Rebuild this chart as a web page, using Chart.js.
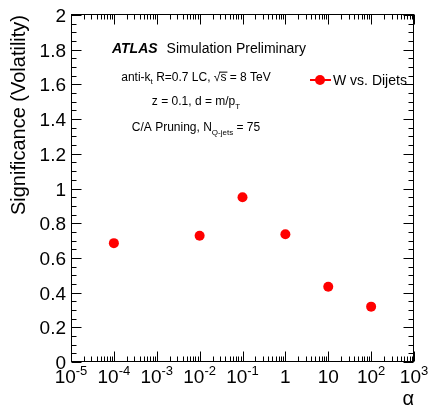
<!DOCTYPE html>
<html>
<head>
<meta charset="utf-8">
<script src="https://cdn.jsdelivr.net/npm/chart.js@4"></script>
<style>
  html, body { margin: 0; padding: 0; background: #fff; }
  #wrap { width: 430px; height: 409px; }
</style>
</head>
<body>
<div id="wrap"><canvas id="canvas"></canvas></div>
<script>
// data
var alphaValues = [1e-4, 1e-2, 1e-1, 1, 10, 100];
var significance = [0.685, 0.728, 0.95, 0.736, 0.434, 0.319];
var seriesLabel = 'W vs. Dijets';

// axis ticks
var xTickExps = [-5, -4, -3, -2, -1, 0, 1, 2, 3];
var yTickValues = [0, 0.2, 0.4, 0.6, 0.8, 1, 1.2, 1.4, 1.6, 1.8, 2];
var yTickLabels = ['0', '0.2', '0.4', '0.6', '0.8', '1', '1.2', '1.4', '1.6', '1.8', '2'];

var FONT = '"Liberation Sans", Arial, Helvetica, sans-serif';

function font(size, style) {
  return (style || '') + ' ' + size + 'px ' + FONT;
}

// draws text pieces (with sub/superscripts) on one line
function drawParts(ctx, parts, x, base, align) {
  var total = 0;
  parts.forEach(function (p) {
    ctx.font = font(p.size, p.style);
    p.w = ctx.measureText(p.t).width;
    total += p.w + (p.gap || 0);
  });
  var cx = align === 'center' ? x - total / 2 : (align === 'right' ? x - total : x);
  ctx.textAlign = 'left';
  ctx.textBaseline = 'alphabetic';
  parts.forEach(function (p) {
    ctx.font = font(p.size, p.style);
    ctx.fillText(p.t, cx, base + (p.dy || 0));
    if (p.bar) {
      ctx.fillRect(cx - 1, base - p.size * 0.78, p.w + 2, 1);
    }
    cx += p.w + (p.gap || 0);
  });
}

var atlasDecor = {
  id: 'atlasDecor',
  afterDraw: function (chart) {
    var ctx = chart.ctx;
    var a = chart.chartArea;
    var xs = chart.scales.x, ys = chart.scales.y;
    var L = a.left + 0.5, R = a.right - 0.5, T = a.top - 0.5, B = a.bottom - 0.5;
    ctx.save();
    ctx.strokeStyle = '#000';
    ctx.fillStyle = '#000';
    ctx.lineWidth = 1;

    // frame
    ctx.strokeRect(L, T, R - L, B - T);

    // x ticks (log): majors at decades, minors 2..9
    var major = 10, minor = 5;
    ctx.beginPath();
    xTickExps.forEach(function (e, i) {
      var px = Math.round(xs.getPixelForValue(Math.pow(10, e))) + 0.5;
      ctx.moveTo(px, B); ctx.lineTo(px, B - major);
      ctx.moveTo(px, T); ctx.lineTo(px, T + major);
      if (i < xTickExps.length - 1) {
        for (var m = 2; m <= 9; m++) {
          var mx = Math.round(xs.getPixelForValue(m * Math.pow(10, e))) + 0.5;
          ctx.moveTo(mx, B); ctx.lineTo(mx, B - minor);
          ctx.moveTo(mx, T); ctx.lineTo(mx, T + minor);
        }
      }
    });
    // y ticks: majors every 0.2, minors every 0.05
    for (var k = 0; k <= 40; k++) {
      var v = k * 0.05;
      var py = Math.round(ys.getPixelForValue(v)) + 0.5;
      var len = (k % 4 === 0) ? major : minor;
      ctx.moveTo(L, py); ctx.lineTo(L + len, py);
      ctx.moveTo(R, py); ctx.lineTo(R - len, py);
    }
    ctx.stroke();

    // y tick labels
    ctx.font = font(19);
    ctx.textAlign = 'right';
    ctx.textBaseline = 'alphabetic';
    yTickValues.forEach(function (v, i) {
      ctx.fillText(yTickLabels[i], a.left - 5, ys.getPixelForValue(v) + 7);
    });

    // x tick labels
    xTickExps.forEach(function (e) {
      var px = xs.getPixelForValue(Math.pow(10, e));
      var parts;
      if (e === 0) parts = [{ t: '1', size: 19 }];
      else if (e === 1) parts = [{ t: '10', size: 19 }];
      else parts = [{ t: '10', size: 19 }, { t: String(e).replace('-', '-'), size: 13, dy: -8 }];
      drawParts(ctx, parts, px, 383, 'center');
    });

    // axis titles
    ctx.font = font(20);
    ctx.textAlign = 'right';
    ctx.fillText('\u03b1', a.right, 405);
    ctx.save();
    ctx.translate(25, a.top);
    ctx.rotate(-Math.PI / 2);
    ctx.textAlign = 'right';
    ctx.fillText('Significance (Volatility)', 0, 0);
    ctx.restore();

    // ATLAS label
    drawParts(ctx, [
      { t: 'ATLAS', size: 14, style: 'italic bold', gap: 9 },
      { t: 'Simulation Preliminary', size: 14 }
    ], 112, 53, 'left');

    var cx = 196;
    drawParts(ctx, [
      { t: 'anti-k', size: 12 },
      { t: 't', size: 8, dy: 3 },
      { t: ' R=0.7 LC, ', size: 12 },
      { t: '\u221a', size: 12 },
      { t: 's', size: 12, bar: true },
      { t: ' = 8 TeV', size: 12 }
    ], cx, 81, 'center');
    drawParts(ctx, [
      { t: 'z = 0.1, d = m/p', size: 12 },
      { t: 'T', size: 8, dy: 4 }
    ], cx, 105, 'center');
    drawParts(ctx, [
      { t: 'C/A Pruning, N', size: 12 },
      { t: 'Q-jets', size: 8, dy: 4 },
      { t: ' = 75', size: 12 }
    ], cx, 131, 'center');

    // legend
    var ds = chart.data.datasets[0];
    ctx.strokeStyle = ds.borderColor;
    ctx.lineWidth = 2;
    ctx.beginPath();
    ctx.moveTo(310, 80); ctx.lineTo(331, 80);
    ctx.stroke();
    ctx.fillStyle = ds.backgroundColor;
    ctx.beginPath();
    ctx.arc(320, 80, ds.pointRadius, 0, Math.PI * 2);
    ctx.fill();
    ctx.fillStyle = '#000';
    ctx.font = font(14);
    ctx.textAlign = 'left';
    ctx.fillText(ds.label, 333, 85);

    ctx.restore();
  }
};

var ctxCanvas = document.getElementById('canvas');
var chart = new Chart(ctxCanvas, {
  type: 'scatter',
  data: {
    datasets: [{
      label: seriesLabel,
      data: alphaValues.map(function (x, i) { return { x: x, y: significance[i] }; }),
      backgroundColor: '#ff0000',
      borderColor: '#ff0000',
      pointRadius: 5,
      pointBorderWidth: 0,
      clip: false
    }]
  },
  options: {
    responsive: true,
    maintainAspectRatio: false,
    animation: false,
    layout: { padding: { left: 71, right: 16, top: 15, bottom: 47 } },
    plugins: { legend: { display: false }, tooltip: { enabled: false } },
    scales: {
      x: { type: 'logarithmic', min: 1e-5, max: 1e3, display: false },
      y: { type: 'linear', min: 0, max: 2, display: false }
    }
  },
  plugins: [atlasDecor]
});
</script>
</body>
</html>
